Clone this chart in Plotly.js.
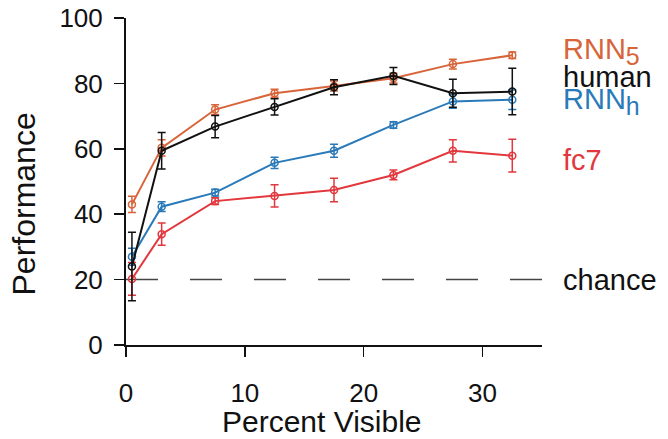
<!DOCTYPE html>
<html>
<head>
<meta charset="utf-8">
<script src="https://cdn.plot.ly/plotly-3.0.1.min.js"></script>
<style>html,body{margin:0;padding:0;background:#fff;}#chart{width:668px;height:439px;}</style>
</head>
<body>
<div id="chart"></div>
<script>
const percentVisible = [0.5, 3, 7.5, 12.5, 17.5, 22.5, 27.5, 32.5];

const rnn5 = [43.0, 60.3, 72.0, 77.0, 79.2, 81.6, 85.9, 88.6];
const rnn5Err = [2.5, 2.5, 1.5, 1.2, 1.5, 1.5, 1.5, 1.0];

const human = [24.0, 59.4, 66.8, 72.8, 78.8, 82.3, 77.0, 77.5];
const humanErr = [10.5, 5.6, 3.4, 2.5, 2.3, 2.6, 4.3, 7.1];

const rnnh = [27.0, 42.3, 46.6, 55.7, 59.4, 67.3, 74.5, 75.0];
const rnnhErr = [2.6, 1.5, 1.0, 1.7, 2.0, 1.0, 2.1, 3.0];

const fc7 = [20.2, 33.9, 44.0, 45.6, 47.4, 52.0, 59.4, 57.9];
const fc7Err = [5.0, 3.4, 1.0, 3.4, 3.6, 1.5, 3.4, 5.0];

const chanceLevel = 20;
const chanceX = [0, 35];

const xTicks = [0, 10, 20, 30];
const yTicks = [0, 20, 40, 60, 80, 100];

const seriesLabels = [
  "RNN<sub><span style=\"font-size:25px\">5</span></sub>",
  "human",
  "RNN<sub><span style=\"font-size:25px\">h</span></sub>",
  "fc7",
  "chance"
];
const labelY = [0.897, 0.82, 0.745, 0.565, 0.198];

const colors = {rnn5: "#d8643a", human: "#111111", rnnh: "#2a7ab9", fc7: "#e2373d", chance: "#444444"};
const FONT = "Liberation Sans, Arial, Helvetica, sans-serif";

function series(name, y, err, color) {
  return {
    type: "scatter", mode: "lines+markers", name: name,
    x: percentVisible, y: y,
    error_y: {type: "data", array: err, visible: true, color: color, thickness: 1.5, width: 4},
    line: {color: color, width: 2},
    marker: {symbol: "circle-open", size: 7, color: color, line: {width: 1.5, color: color}},
    cliponaxis: false, showlegend: false
  };
}

const traces = [
  {type: "scatter", mode: "lines", x: chanceX, y: [chanceLevel, chanceLevel],
   line: {color: colors.chance, width: 1.5, dash: "32px,32px"}, showlegend: false, hoverinfo: "skip"},
  series("fc7", fc7, fc7Err, colors.fc7),
  series("RNNh", rnnh, rnnhErr, colors.rnnh),
  series("RNN5", rnn5, rnn5Err, colors.rnn5),
  series("human", human, humanErr, colors.human)
];

const labelColors = [colors.rnn5, colors.human, colors.rnnh, colors.fc7, "#111111"];
const annotations = seriesLabels.map((t, i) => ({
  text: t, x: 1.045, y: labelY[i], xref: "paper", yref: "paper",
  xanchor: "left", yanchor: "middle", showarrow: false,
  font: {family: FONT, size: 29, color: labelColors[i]}
}));

annotations.push({
  text: "Percent Visible", x: 0.47, y: -0.235, xref: "paper", yref: "paper",
  xanchor: "center", yanchor: "middle", showarrow: false,
  font: {family: FONT, size: 30, color: "#111111"}
});
annotations.push({
  text: "Performance", x: -0.245, y: 0.43, xref: "paper", yref: "paper",
  xanchor: "center", yanchor: "middle", showarrow: false, textangle: -90,
  font: {family: FONT, size: 32, color: "#111111"}
});

const layout = {
  width: 668, height: 439,
  margin: {l: 126, r: 126, t: 18, b: 94},
  paper_bgcolor: "#ffffff", plot_bgcolor: "#ffffff",
  font: {family: FONT, color: "#111111"},
  xaxis: {
    range: [0, 35], tickvals: xTicks, ticktext: xTicks.map(String),
    showline: true, linecolor: "#111111", linewidth: 1.5,
    ticks: "outside", ticklen: 10, tickwidth: 1.5, tickcolor: "#111111",
    ticklabelstandoff: 14,
    showgrid: false, zeroline: false,
    tickfont: {size: 26}
  },
  yaxis: {
    range: [0, 100], tickvals: yTicks, ticktext: yTicks.map(String),
    showline: true, linecolor: "#111111", linewidth: 2,
    ticks: "outside", ticklen: 10, tickwidth: 1.5, tickcolor: "#111111",
    ticklabelstandoff: 6,
    showgrid: false, zeroline: false,
    tickfont: {size: 26}
  },
  annotations: annotations
};

Plotly.newPlot("chart", traces, layout, {staticPlot: true, displayModeBar: false});
</script>
</body>
</html>
